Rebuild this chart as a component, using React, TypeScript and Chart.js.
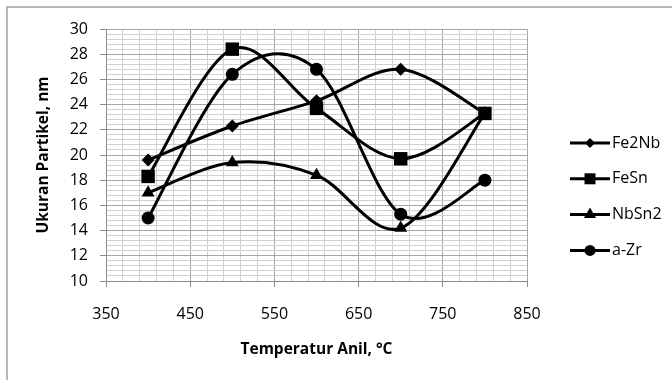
import React, { useEffect, useRef } from 'react';
import { Chart, registerables } from 'chart.js';

Chart.register(...registerables);

// ---- data ----
const temperatures = [400, 500, 600, 700, 800];
const fe2nb = [19.6, 22.3, 24.3, 26.8, 23.3];
const fesn = [18.3, 28.4, 23.7, 19.7, 23.3];
const nbsn2 = [17.0, 19.4, 18.4, 14.2, 23.3];
const aZr = [15.0, 26.4, 26.8, 15.3, 18.0];
const seriesNames = ['Fe2Nb', 'FeSn', 'NbSn2', 'a-Zr'];
const xMajorTicks = [350, 450, 550, 650, 750, 850];
const yMajorTicks = [10, 12, 14, 16, 18, 20, 22, 24, 26, 28, 30];
const xMinorStep = 20;
const yMinorStep = 0.4;

const FONT = 'Open Sans';

const seriesValues = [fe2nb, fesn, nbsn2, aZr];
const pointStyles = ['rectRot', 'rect', 'triangle', 'circle'];
const pointRadii = [6.5, 9.5, 7.5, 6.5];

function buildTicks(min: number, max: number, step: number) {
  const out: number[] = [];
  const n = Math.round((max - min) / step);
  for (let i = 0; i <= n; i++) out.push(Math.round((min + i * step) * 1000) / 1000);
  return out;
}
const xAllTicks = buildTicks(xMajorTicks[0], xMajorTicks[xMajorTicks.length - 1], xMinorStep);
const yAllTicks = buildTicks(yMajorTicks[0], yMajorTicks[yMajorTicks.length - 1], yMinorStep);
const isXMajor = (v: any) => v !== undefined && xMajorTicks.some((m) => Math.abs(m - v) < 1e-6);
const isYMajor = (v: any) => v !== undefined && yMajorTicks.some((m) => Math.abs(m - v) < 1e-6);

// Excel-like smoothing (Catmull-Rom, 1/6 control points)
const smoothPlugin = {
  id: 'excelSmooth',
  beforeDatasetsDraw(chart: any) {
    chart.data.datasets.forEach((_: any, i: number) => {
      const meta = chart.getDatasetMeta(i);
      const line = meta.dataset;
      if (!line) return;
      line.updateControlPoints(chart.chartArea, 'x');
      const pts = meta.data as any[];
      const n = pts.length;
      for (let k = 0; k < n; k++) {
        const p = pts[k];
        const prev = pts[Math.max(0, k - 1)];
        const next = pts[Math.min(n - 1, k + 1)];
        const tx = (next.x - prev.x) / 6;
        const ty = (next.y - prev.y) / 6;
        p.cp1x = p.x - tx;
        p.cp1y = p.y - ty;
        p.cp2x = p.x + tx;
        p.cp2y = p.y + ty;
      }
      line._path = undefined;
    });
  },
};

function drawMarker(ctx: CanvasRenderingContext2D, style: string, x: number, y: number) {
  ctx.beginPath();
  if (style === 'rectRot') {
    const r = 5;
    ctx.moveTo(x - r, y);
    ctx.lineTo(x, y - r);
    ctx.lineTo(x + r, y);
    ctx.lineTo(x, y + r);
    ctx.closePath();
  } else if (style === 'rect') {
    const h = 5.5;
    ctx.rect(x - h, y - h, 2 * h, 2 * h);
  } else if (style === 'triangle') {
    const r = 7;
    ctx.moveTo(x, y - r);
    ctx.lineTo(x + r * 0.866, y + r * 0.5);
    ctx.lineTo(x - r * 0.866, y + r * 0.5);
    ctx.closePath();
  } else {
    ctx.arc(x, y, 5.5, 0, Math.PI * 2);
  }
  ctx.fill();
}

const legendPlugin = {
  id: 'excelLegend',
  afterDraw(chart: any) {
    const ctx = chart.ctx as CanvasRenderingContext2D;
    const area = chart.chartArea;
    const x0 = area.right + 43;
    const yStart = area.top + 114;
    const gap = 35.8;
    ctx.save();
    seriesNames.forEach((name, i) => {
      const y = yStart + i * gap;
      ctx.strokeStyle = '#000';
      ctx.fillStyle = '#000';
      ctx.lineWidth = 3;
      ctx.beginPath();
      ctx.moveTo(x0, y);
      ctx.lineTo(x0 + 40, y);
      ctx.stroke();
      drawMarker(ctx, pointStyles[i], x0 + 20, y);
      ctx.font = `16px "${FONT}"`;
      ctx.textAlign = 'left';
      ctx.textBaseline = 'middle';
      ctx.fillText(name, x0 + 42, y);
    });
    ctx.restore();
  },
};

const framePlugin = {
  id: 'frame',
  beforeDraw(chart: any) {
    const ctx = chart.ctx as CanvasRenderingContext2D;
    ctx.save();
    ctx.fillStyle = '#fff';
    ctx.fillRect(0, 0, chart.width, chart.height);
    ctx.strokeStyle = '#a0a0a0';
    ctx.lineWidth = 1.5;
    ctx.strokeRect(7, 7, chart.width + 20, chart.height + 20);
    ctx.restore();
  },
};

export default function App() {
  const ref = useRef<HTMLCanvasElement | null>(null);

  useEffect(() => {
    if (!ref.current) return;
    const datasets = seriesNames.map((name, i) => ({
      label: name,
      data: temperatures.map((t, k) => ({ x: t, y: seriesValues[i][k] })),
      borderColor: '#000',
      backgroundColor: '#000',
      borderWidth: 3,
      pointStyle: pointStyles[i] as any,
      pointRadius: pointRadii[i],
      pointBorderWidth: 0,
      pointBackgroundColor: '#000',
      tension: 0.4,
      order: seriesNames.length - i,
    }));

    const chart = new Chart(ref.current, {
      type: 'line',
      data: { datasets },
      plugins: [framePlugin, smoothPlugin, legendPlugin],
      options: {
        animation: false,
        responsive: false,
        devicePixelRatio: 1,
        layout: { padding: { top: 29, right: 145, bottom: 0, left: 0 } },
        plugins: { legend: { display: false }, tooltip: { enabled: false } },
        scales: {
          x: {
            type: 'linear',
            min: xMajorTicks[0],
            max: xMajorTicks[xMajorTicks.length - 1],
            afterBuildTicks: (scale: any) => {
              scale.ticks = xAllTicks.map((v) => ({ value: v }));
            },
            afterFit: (scale: any) => {
              scale.height = 99;
            },
            ticks: {
              autoSkip: false,
              maxRotation: 0,
              padding: 18,
              color: '#000',
              font: { family: FONT, size: 16 },
              callback: (v: any) => (isXMajor(v) ? String(v) : ''),
            },
            grid: {
              color: (c: any) => (isXMajor(c.tick?.value) ? '#a6a6a6' : '#d0d0d0'),
              tickColor: (c: any) => (isXMajor(c.tick?.value) ? '#8c8c8c' : 'rgba(0,0,0,0)'),
              tickLength: 6,
              lineWidth: 1,
            },
            border: { color: '#8c8c8c', width: 1 },
            title: {
              display: true,
              text: 'Temperatur Anil, °C',
              color: '#000',
              font: { family: FONT, size: 15.5, weight: 'bold' },
              padding: { top: 0, bottom: 21 },
            },
          },
          y: {
            type: 'linear',
            min: yMajorTicks[0],
            max: yMajorTicks[yMajorTicks.length - 1],
            afterBuildTicks: (scale: any) => {
              scale.ticks = yAllTicks.map((v) => ({ value: v }));
            },
            afterFit: (scale: any) => {
              scale.width = 106;
            },
            ticks: {
              autoSkip: false,
              padding: 12,
              color: '#000',
              font: { family: FONT, size: 16 },
              callback: (v: any) => (isYMajor(v) ? String(v) : ''),
            },
            grid: {
              color: (c: any) => (isYMajor(c.tick?.value) ? '#a6a6a6' : '#d0d0d0'),
              tickColor: (c: any) => (isYMajor(c.tick?.value) ? '#8c8c8c' : 'rgba(0,0,0,0)'),
              tickLength: 6,
              lineWidth: 1,
            },
            border: { color: '#8c8c8c', width: 1 },
            title: {
              display: true,
              text: 'Ukuran Partikel, nm',
              color: '#000',
              font: { family: FONT, size: 15.5, weight: 'bold' },
              padding: { top: 34, bottom: 0 },
            },
          },
        },
      },
    });
    return () => chart.destroy();
  }, []);

  return (
    <div style={{ position: 'absolute', left: 0, top: 0, width: 672, height: 380 }}>
      <canvas ref={ref} width={672} height={380} style={{ width: 672, height: 380 }} />
    </div>
  );
}
